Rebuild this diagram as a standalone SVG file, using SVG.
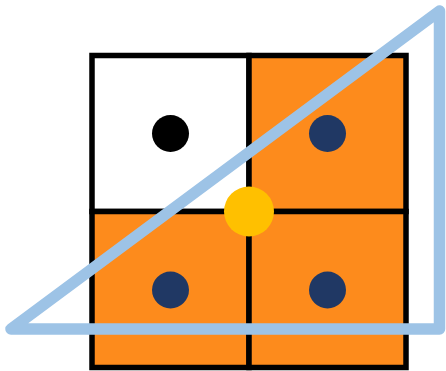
<svg xmlns="http://www.w3.org/2000/svg" width="446" height="371" viewBox="0 0 446 371">
<style>
.cell{stroke:#000;stroke-width:5.5}
.white{fill:#fff}
.orange{fill:#FD8B1C}
.navy{fill:#203864}
.tri{fill:none;stroke:#9DC3E6;stroke-width:11.5;stroke-linejoin:round;stroke-linecap:round}
</style>
<rect width="446" height="371" fill="#fff"/>
<g id="cell-tl"><rect class="cell white" x="92" y="55.5" width="157" height="156"/><circle cx="170.5" cy="133.5" r="18.5" fill="#000"/></g>
<g id="cell-tr"><rect class="cell orange" x="249" y="55.5" width="157" height="156"/><circle class="navy" cx="327.5" cy="133.5" r="18.5"/></g>
<g id="cell-bl"><rect class="cell orange" x="92" y="211.5" width="157" height="156"/><circle class="navy" cx="170.5" cy="290" r="18.5"/></g>
<g id="cell-br"><rect class="cell orange" x="249" y="211.5" width="157" height="156"/><circle class="navy" cx="327.5" cy="290" r="18.5"/></g>
<g id="center"><circle cx="249" cy="211.5" r="25" fill="#FFC000"/></g>
<g id="triangle"><polygon class="tri" points="11,329 439.5,11 439.5,329"/></g>
</svg>
